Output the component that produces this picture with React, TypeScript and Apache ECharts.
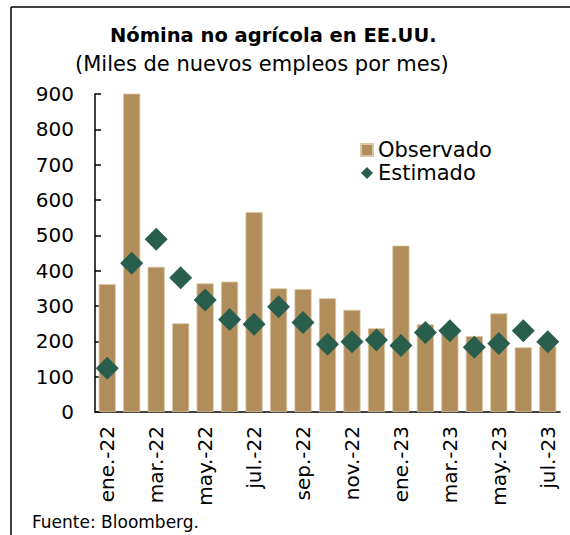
import React, { useEffect, useRef } from "react";
import * as echarts from "echarts";

const categories = [
  "ene.-22", "feb.-22", "mar.-22", "abr.-22", "may.-22", "jun.-22", "jul.-22",
  "ago.-22", "sep.-22", "oct.-22", "nov.-22", "dic.-22", "ene.-23", "feb.-23",
  "mar.-23", "abr.-23", "may.-23", "jun.-23", "jul.-23",
];
const observado = [362, 904, 411, 251, 364, 369, 566, 350, 348, 322, 289, 237, 471, 248, 228, 215, 279, 183, 187];
const estimado = [124, 421, 489, 380, 317, 262, 248, 298, 253, 192, 199, 204, 188, 225, 230, 183, 194, 230, 199];
const yTicks = [0, 100, 200, 300, 400, 500, 600, 700, 800, 900];

const FONT = "'DejaVu Sans', sans-serif";

export default function App() {
  const ref = useRef<HTMLDivElement>(null);
  useEffect(() => {
    const chart = echarts.init(ref.current!, undefined, { renderer: "svg" });
    chart.setOption({
      animation: false,
      backgroundColor: "#fff",
      textStyle: { fontFamily: FONT },
      title: [
        {
          text: "Nómina no agrícola en EE.UU.",
          left: 105,
          top: 20,
          textStyle: { fontSize: 19.5, fontWeight: "bold", color: "#000", fontFamily: FONT },
        },
        {
          text: "(Miles de nuevos empleos por mes)",
          left: 70,
          top: 48,
          textStyle: { fontSize: 21, fontWeight: "normal", color: "#000", fontFamily: FONT },
        },
        {
          text: "Fuente: Bloomberg.",
          left: 27,
          top: 508,
          textStyle: { fontSize: 17, fontWeight: "normal", color: "#000", fontFamily: FONT },
        },
      ],
      legend: {
        orient: "vertical",
        left: 360,
        top: 139.5,
        padding: 0,
        itemWidth: 12,
        itemHeight: 12,
        itemGap: 2,
        textStyle: { fontSize: 21, lineHeight: 21, color: "#000", fontFamily: FONT },
        data: [
          { name: "Observado", icon: "rect" },
          { name: "Estimado", icon: "diamond" },
        ],
      },
      grid: { left: 95, right: 10, top: 94, bottom: 123, containLabel: false },
      xAxis: [
        {
          type: "category",
          data: categories,
          boundaryGap: true,
          axisLine: { lineStyle: { color: "#000", width: 1.5 } },
          axisTick: { interval: 1, length: 6, lineStyle: { color: "#000", width: 1.5 } },
          axisLabel: {
            interval: 1,
            rotate: 90,
            fontSize: 20,
            color: "#000",
            margin: 14,
            fontFamily: FONT,
          },
        },
        {
          type: "category",
          data: categories,
          position: "bottom",
          boundaryGap: true,
          axisLine: { show: false },
          axisTick: { interval: 1, inside: true, length: 5, lineStyle: { color: "#000", width: 1.5 } },
          axisLabel: { show: false },
        },
      ],
      yAxis: {
        type: "value",
        min: 0,
        max: 900,
        interval: 100,
        splitLine: { show: false },
        axisLine: { show: true, lineStyle: { color: "#000", width: 1.5 } },
        axisTick: { show: true, inside: true, length: 6, lineStyle: { color: "#000", width: 1.5 } },
        axisLabel: {
          fontSize: 20,
          color: "#000",
          margin: 21,
          fontFamily: FONT,
          customValues: yTicks,
        },
      },
      graphic: [
        { type: "line", shape: { x1: 11, y1: 7, x2: 570, y2: 7 }, style: { stroke: "#000", lineWidth: 1.5 } },
        { type: "line", shape: { x1: 11, y1: 7, x2: 11, y2: 535 }, style: { stroke: "#000", lineWidth: 1.5 } },
      ],
      series: [
        {
          name: "Observado",
          type: "bar",
          data: observado,
          barCategoryGap: "30%",
          itemStyle: { color: "#B08D5A", borderColor: "#D9C6A6", borderWidth: 0.8 },
        },
        {
          name: "Estimado",
          type: "scatter",
          data: estimado,
          symbol: "diamond",
          symbolSize: 23,
          itemStyle: { color: "#2A5E4C", opacity: 1 },
          z: 5,
        },
      ],
    });
    return () => chart.dispose();
  }, []);
  return <div ref={ref} style={{ position: "absolute", left: 0, top: 0, width: 570, height: 535 }} />;
}
